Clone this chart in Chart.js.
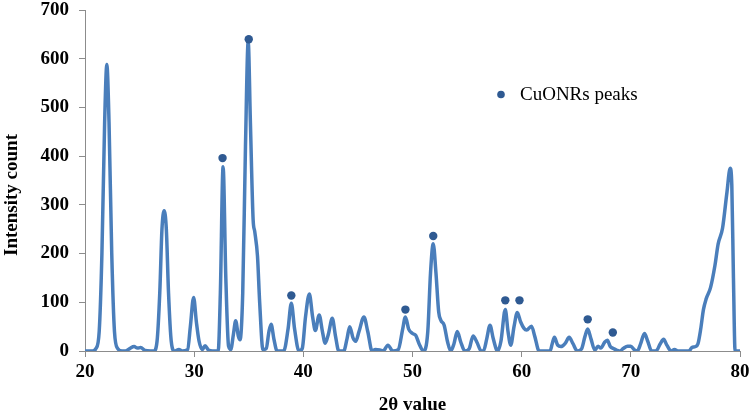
<!DOCTYPE html>
<html><head><meta charset="utf-8">
<script src="https://cdn.jsdelivr.net/npm/chart.js@4.4.1/dist/chart.umd.min.js"></script>
<style>html,body{margin:0;padding:0;background:#fff}</style>
</head><body>
<canvas id="c" width="750" height="416"></canvas>
<script>
// 2θ positions (degrees) of the XRD trace
const twoTheta = [
  20.0,20.7,21.0,21.3,21.55,21.8,22.0,22.2,22.45,22.7,23.0,23.4,23.7,24.1,24.5,24.8,25.1,25.5,26.0,
  26.3,26.6,26.85,27.05,27.25,27.45,27.65,27.9,28.2,28.6,28.9,29.4,29.65,29.95,30.2,30.45,30.75,31.0,31.3,31.7,
  32.2,32.4,32.65,32.9,33.15,33.35,33.6,33.8,34.05,34.2,34.45,34.7,34.95,35.15,35.4,35.55,35.8,36.0,36.3,
  36.6,36.85,37.05,37.3,37.6,38.2,38.6,38.9,39.2,39.6,39.9,40.2,40.55,40.85,41.1,41.45,41.75,42.0,42.3,
  42.65,42.95,43.25,43.7,44.0,44.25,44.55,44.8,45.1,45.55,45.9,46.3,46.6,47.0,47.3,47.75,48.2,48.7,49.1,
  49.35,49.65,50.0,50.3,50.6,51.0,51.4,51.65,51.9,52.15,52.4,52.6,52.9,53.2,53.5,53.8,54.1,54.4,54.8,
  55.2,55.55,55.9,56.3,56.5,56.8,57.1,57.4,57.8,58.1,58.5,58.75,59.0,59.3,59.6,59.9,60.2,60.45,60.9,61.2,
  61.6,62.6,62.8,63.0,63.3,63.6,64.0,64.35,64.7,65.1,65.5,65.8,66.05,66.35,66.7,67.0,67.25,67.6,67.85,
  68.1,68.4,68.7,69.0,69.3,69.7,70.0,70.3,70.6,70.9,71.25,71.55,71.9,72.3,72.7,73.0,73.3,73.7,74.0,74.3,
  75.3,75.6,75.9,76.15,76.4,76.65,76.9,77.3,77.7,78.0,78.4,78.8,79.1,79.25,79.4,79.55,80.0
];
// Intensity counts
const intensity = [
  0,0,5,40,200,470,588,470,200,40,5,0,0,5,9,6,7,1,0,
  0,20,120,250,288,250,120,20,0,3,0,3,50,110,60,20,3,11,2,0,
  0,120,378,150,10,3,35,62,30,23,120,420,635,470,270,245,195,100,3,
  5,40,55,25,0,0,45,98,45,0,5,70,117,70,42,74,40,16,35,
  67,30,0,0,25,50,27,20,40,70,40,0,3,2,0,12,0,3,45,
  70,45,36,32,15,0,40,160,220,160,80,63,53,20,0,15,40,20,0,
  5,31,18,0,0,25,53,25,0,20,85,40,12,50,79,60,47,43,51,30,
  0,0,15,28,12,9,16,28,15,0,5,30,45,25,2,10,6,18,22,
  10,5,2,0,5,10,10,3,0,15,36,20,0,0,15,24,12,0,3,0,
  0,7,9,15,45,85,107,130,175,220,252,325,375,340,150,0,0
];
// Marked CuO nanorod peaks
const peakTheta = [32.6, 35.0, 38.9, 49.35, 51.9, 58.5, 59.8, 66.05, 68.35];
const peakIntensity = [396, 640, 114, 85, 236, 104, 104, 65, 38];
const xTicks = [20, 30, 40, 50, 60, 70, 80];
const yTicks = [0, 100, 200, 300, 400, 500, 600, 700];
const peakLabel = 'CuONRs peaks';
const xTitle = '2θ value';
const yTitle = 'Intensity count';

const lineColor = '#4A7EBB';
const dotColor = '#2F5A92';
const axisColor = '#8C8C8C';
const serif = '"Liberation Serif", "Times New Roman", serif';

const traceData = twoTheta.map((x, i) => ({x: x, y: intensity[i]}));
const peakData = peakTheta.map((x, i) => ({x: x, y: peakIntensity[i]}));

const overlay = {
  id: 'overlay',
  afterDraw(chart) {
    const ctx = chart.ctx;
    ctx.save();
    // legend
    ctx.fillStyle = dotColor;
    ctx.beginPath();
    ctx.arc(501, 94.5, 3.8, 0, Math.PI * 2);
    ctx.fill();
    ctx.fillStyle = '#000';
    ctx.font = '19px ' + serif;
    ctx.textBaseline = 'middle';
    ctx.textAlign = 'left';
    ctx.fillText(peakLabel, 520, 95);
    // y axis title
    ctx.font = 'bold 19px ' + serif;
    ctx.translate(12, 195);
    ctx.rotate(-Math.PI / 2);
    ctx.textAlign = 'center';
    ctx.fillText(yTitle, 0, 0);
    ctx.restore();
  }
};

new Chart(document.getElementById('c'), {
  type: 'line',
  data: {
    datasets: [
      {
        label: peakLabel,
        data: peakData,
        showLine: false,
        pointRadius: 4.2,
        pointHoverRadius: 4.2,
        pointBackgroundColor: dotColor,
        pointBorderColor: dotColor,
        pointBorderWidth: 0,
        order: 0
      },
      {
        label: 'trace',
        data: traceData,
        borderColor: lineColor,
        borderWidth: 3.5,
        pointRadius: 0,
        fill: false,
        cubicInterpolationMode: 'monotone',
        order: 1
      }
    ]
  },
  options: {
    responsive: false,
    animation: false,
    events: [],
    layout: {padding: {top: 10, right: 10, left: 0, bottom: 0}},
    plugins: {legend: {display: false}, tooltip: {enabled: false}},
    scales: {
      x: {
        type: 'linear',
        min: 20, max: 80,
        afterBuildTicks(scale) { scale.ticks = xTicks.map(v => ({value: v})); },
        afterFit(scale) { scale.height = 65; scale.paddingRight = 0; scale.paddingLeft = 0; },
        grid: {display: true, drawOnChartArea: false, drawTicks: true, tickLength: 6, color: axisColor},
        border: {display: true, color: axisColor, width: 1},
        ticks: {color: '#000', padding: 4, maxRotation: 0, font: {family: serif, size: 19, weight: 'bold'}},
        title: {display: true, text: xTitle, color: '#000', padding: {top: 0, bottom: 0}, font: {family: serif, size: 19, weight: 'bold'}}
      },
      y: {
        min: 0, max: 700,
        afterBuildTicks(scale) { scale.ticks = yTicks.map(v => ({value: v})); },
        afterFit(scale) { scale.width = 85; scale.paddingTop = 0; scale.paddingBottom = 0; },
        grid: {display: true, drawOnChartArea: false, drawTicks: true, tickLength: 6, color: axisColor},
        border: {display: true, color: axisColor, width: 1},
        ticks: {color: '#000', padding: 10, font: {family: serif, size: 19, weight: 'bold'}},
        title: {display: false}
      }
    }
  },
  plugins: [overlay]
});
</script>
</body></html>
